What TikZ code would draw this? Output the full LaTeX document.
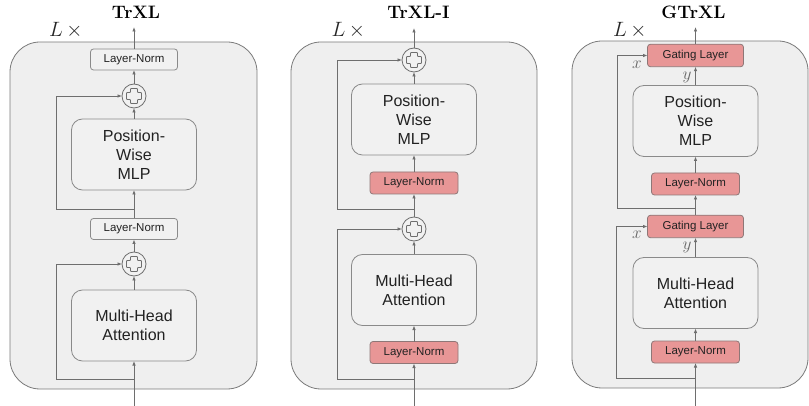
\documentclass[tikz,border=0pt]{standalone}
\usepackage{fontspec}
\newfontfamily\arialf{Liberation Sans}
\usetikzlibrary{arrows.meta,calc}
\definecolor{panelfill}{HTML}{EFEFEF}
\definecolor{paneldraw}{HTML}{7A7A7A}
\definecolor{boxdraw}{HTML}{8A8A8A}
\definecolor{boxfill}{HTML}{F1F1F1}
\definecolor{redfill}{HTML}{E89696}
\definecolor{reddraw}{HTML}{8E7777}
\definecolor{linec}{HTML}{6E6E6E}
\definecolor{txt}{HTML}{222222}
\definecolor{lblc}{HTML}{666666}
\newcommand\pluscross[1]{\draw[draw=linec,line width=0.8pt,rounded corners=0.8pt,shift={(#1.center)}]
 (-3.5,-7.5) -- (3.5,-7.5) -- (3.5,-3.5) -- (7.5,-3.5) -- (7.5,3.5) -- (3.5,3.5) -- (3.5,7.5) -- (-3.5,7.5) -- (-3.5,3.5) -- (-7.5,3.5) -- (-7.5,-3.5) -- (-3.5,-3.5) -- cycle;}
\begin{document}
\begin{tikzpicture}[x=1pt,y=-1pt,
 panel/.style={draw=paneldraw,fill=panelfill,rounded corners=30pt,line width=0.8pt,inner sep=0pt,outer sep=0pt},
 bigbox/.style={draw=boxdraw,fill=boxfill,rounded corners=11pt,line width=0.8pt,minimum width=125pt,minimum height=71pt,inner sep=0pt,outer sep=0pt,align=center,font=\arialf\fontsize{16}{19}\selectfont,text=txt},
 lnbox/.style={draw=boxdraw,fill=boxfill,rounded corners=3pt,line width=0.8pt,minimum width=87pt,minimum height=21pt,inner sep=0pt,outer sep=0pt,font=\arialf\fontsize{11.5}{13}\selectfont,text=txt},
 redbox/.style={lnbox,draw=reddraw,fill=redfill,minimum width=88pt,minimum height=22pt},
 gatebox/.style={redbox,minimum width=96pt,minimum height=22.5pt},
 plus/.style={circle,draw=linec,fill=boxfill,line width=0.8pt,minimum size=24pt,inner sep=0pt,outer sep=0pt},
 title/.style={anchor=base,font=\fontsize{18}{21}\selectfont\bfseries,text=black,inner sep=0pt},
 lx/.style={anchor=base west,font=\fontsize{20.74}{24}\selectfont,text=black!85,inner sep=0pt},
 lbl/.style={font=\fontsize{17.28}{19}\selectfont,text=lblc,inner sep=0pt},
 arr/.style={draw=linec,line width=0.8pt,-{Latex[length=4.5pt,width=3.6pt]}},
]
\useasboundingbox (0,0) rectangle (809,406);

% ---------------- Panel 1: TrXL ----------------
\node[panel,minimum width=247pt,minimum height=347pt] (P1) at (133.5,215.5) {};
\node[title] (t1) at (136,19) {TrXL};
\node[lx] (l1) at (49,36.5) {$L\,\times$};
\node[bigbox] (mha1) at (134,325.5) {Multi-Head\\Attention};
\node[plus] (pa1) at (134,264) {};
\node[lnbox] (lna1) at (134,229) {Layer-Norm};
\node[bigbox] (mlp1) at (134,154.5) {Position-\\Wise\\MLP};
\node[plus] (pb1) at (134,96) {};
\node[lnbox] (lnb1) at (134,59.5) {Layer-Norm};
\pluscross{pa1}\pluscross{pb1}
\coordinate (in1) at (134,406);
\coordinate (out1) at (134,27);
\coordinate (ra1) at (134,379); \coordinate (rc1) at (56,379);
\coordinate (rb1) at (134,209); \coordinate (rd1) at (56,209);
\draw[arr] (in1) -- (mha1);
\draw[arr] (mha1) -- (pa1);
\draw[arr] (pa1) -- (lna1);
\draw[arr] (lna1) -- (mlp1);
\draw[arr] (mlp1) -- (pb1);
\draw[arr] (pb1) -- (lnb1);
\draw[arr] (lnb1) -- (out1);
\draw[arr] (ra1) -- (rc1) |- (pa1);
\draw[arr] (rb1) -- (rd1) |- (pb1);

% ---------------- Panel 2: TrXL-I ----------------
\node[panel,minimum width=246pt,minimum height=347pt] (P2) at (414,215.5) {};
\node[title] (t2) at (418.5,19) {TrXL-I};
\node[lx] (l2) at (331.5,37) {$L\,\times$};
\node[redbox] (lna2) at (414,352.5) {Layer-Norm};
\node[bigbox] (mha2) at (414,290) {Multi-Head\\Attention};
\node[plus] (pa2) at (414,229) {};
\node[redbox] (lnb2) at (414,183) {Layer-Norm};
\node[bigbox] (mlp2) at (414,119.5) {Position-\\Wise\\MLP};
\node[plus] (pb2) at (414,60) {};
\pluscross{pa2}\pluscross{pb2}
\coordinate (in2) at (414,406);
\coordinate (out2) at (414,28);
\coordinate (ra2) at (414,379); \coordinate (rc2) at (337,379);
\coordinate (rb2) at (414,209); \coordinate (rd2) at (337,209);
\draw[arr] (in2) -- (lna2);
\draw[arr] (lna2) -- (mha2);
\draw[arr] (mha2) -- (pa2);
\draw[arr] (pa2) -- (lnb2);
\draw[arr] (lnb2) -- (mlp2);
\draw[arr] (mlp2) -- (pb2);
\draw[arr] (pb2) -- (out2);
\draw[arr] (ra2) -- (rc2) |- (pa2);
\draw[arr] (rb2) -- (rd2) |- (pb2);

% ---------------- Panel 3: GTrXL ----------------
\node[panel,minimum width=236pt,minimum height=347pt] (P3) at (690,214.5) {};
\node[title] (t3) at (693.5,19) {GTrXL};
\node[lx] (l3) at (613,36.5) {$L\,\times$};
\node[redbox] (lna3) at (695.5,352) {Layer-Norm};
\node[bigbox] (mha3) at (695.5,293) {Multi-Head\\Attention};
\node[gatebox] (ga3) at (695.5,226.5) {Gating Layer};
\node[redbox] (lnb3) at (695.5,184) {Layer-Norm};
\node[bigbox] (mlp3) at (695.5,121) {Position-\\Wise\\MLP};
\node[gatebox] (gb3) at (695.5,55.5) {Gating Layer};
\coordinate (in3) at (695.5,406);
\coordinate (out3) at (695.5,27);
\coordinate (ra3) at (695.5,378); \coordinate (rc3) at (616,378);
\coordinate (rb3) at (695.5,208); \coordinate (rd3) at (617,208);
\draw[arr] (in3) -- (lna3);
\draw[arr] (lna3) -- (mha3);
\draw[arr] (mha3) -- (ga3);
\draw[arr] (ga3) -- (lnb3);
\draw[arr] (lnb3) -- (mlp3);
\draw[arr] (mlp3) -- (gb3);
\draw[arr] (gb3) -- (out3);
\draw[arr] (ra3) -- (rc3) |- (ga3);
\draw[arr] (rb3) -- (rd3) |- (gb3);
\node[lbl] (xa3) at (637,234.5) {$x$};
\node[lbl] (ya3) at (687,247) {$y$};
\node[lbl] (xb3) at (637,64.5) {$x$};
\node[lbl] (yb3) at (687,77) {$y$};
\end{tikzpicture}
\end{document}
